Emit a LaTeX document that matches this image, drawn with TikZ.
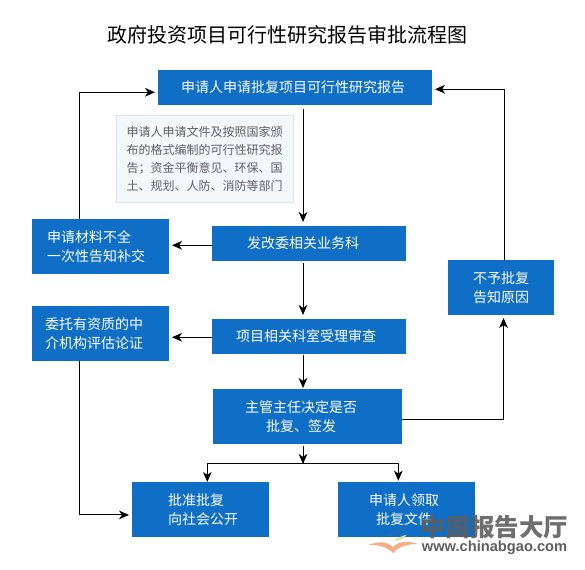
\documentclass[tikz,border=0pt]{standalone}
\usepackage{xcolor}
\usepackage{fontspec}
\setmainfont{Noto Sans CJK SC}
\newfontfamily\markfont{Liberation Sans}
\usepackage{tikz}
\usetikzlibrary{arrows.meta, positioning, calc}
\definecolor{flowBlue}{HTML}{0F6EC6}
\definecolor{noteFill}{HTML}{F3F8FD}
\definecolor{noteLine}{HTML}{D6E6F5}
\definecolor{noteText}{HTML}{5F5F5F}
\definecolor{markGray}{HTML}{5E5E5E}
\definecolor{markBook}{HTML}{F4AE84}
\definecolor{markWing}{HTML}{2F6FA8}
\definecolor{markLeaf}{HTML}{DDE58C}

\begin{document}
\begin{tikzpicture}[
  box/.style={fill=flowBlue, text=white, align=center, inner sep=0pt, outer sep=0pt,
              font=\fontsize{10.5pt}{14.25pt}\selectfont},
  wide/.style={box, minimum width=145.5pt, minimum height=26.25pt},
  side/.style={box, minimum width=102.75pt, minimum height=41.25pt},
  note/.style={draw=noteLine, fill=noteFill, text=noteText, align=left, inner sep=0pt, outer sep=0pt,
               font=\fontsize{9pt}{13.5pt}\selectfont, minimum width=132.75pt,
               minimum height=65.25pt, line width=0.5pt},
  arr/.style={-{Stealth[inset=2.2pt, length=7.5pt, width=6.5pt]}, line width=0.75pt, shorten >=2.25pt}
]
  \useasboundingbox (0,0) rectangle (438.75pt,-427.5pt);

  \node[font=\fontsize{15pt}{18pt}\selectfont] (title) at (215.6pt,-26.25pt) {政府投资项目可行性研究报告审批流程图};

  \node[box, minimum width=205.5pt, minimum height=26.25pt] (apply) at (221.25pt,-65.6pt) {申请人申请批复项目可行性研究报告\hspace*{3pt}};
  \node[note, below=7.5pt of apply, xshift=-67.875pt] (memo) {申请人申请文件及按照国家颁\\布的格式编制的可行性研究报\\告；资金平衡意见、环保、国\\土、规划、人防、消防等部门};
  \node[wide, below=90.75pt of apply, xshift=10.5pt] (dept) {发改委相关业务科\hspace*{9pt}};
  \node[wide, below=43.5pt of dept] (review) {项目相关科室受理审查\hspace*{4.5pt}};
  \node[side, left=32.25pt of dept, yshift=-2.25pt, align=left] (lack) {申请材料不全\\一次性告知补交\hspace*{6.75pt}};
  \node[side, left=32.25pt of review, yshift=2.25pt, align=left] (entrust) {委托有资质的中\hspace*{9.75pt}\\介机构评估论证};
  \node[box, minimum width=141.75pt, minimum height=41.25pt, below=26.25pt of review, xshift=-1.125pt] (decide) {主管主任决定是否\hspace*{9.75pt}\\批复、签发\hspace*{9.75pt}};
  \node[side, below=28.5pt of decide, xshift=-80.25pt, align=left] (approve) {\hspace*{3.75pt}批准批复\\\hspace*{3.75pt}向社会公开};
  \node[side, right=51.75pt of approve] (collect) {申请人领取\hspace*{3.75pt}\\批复文件\hspace*{3.75pt}};
  \node[box, minimum width=79.5pt, minimum height=41.25pt, right=31.5pt of dept, yshift=-33pt] (refuse) {不予批复\\告知原因};

  % free points of the connectors
  \coordinate (fork) at ([xshift=-3.375pt, yshift=-15pt]decide.south);

  \draw[arr] ([xshift=6pt, yshift=-3pt]apply.south) -- ([xshift=-4.5pt, yshift=0.75pt]dept.north);
  \draw[arr] ([xshift=-4.5pt, yshift=-1.5pt]dept.south) -- ([xshift=-4.5pt, yshift=0.75pt]review.north);
  \draw[arr, shorten >=0.75pt] ([xshift=-4.5pt, yshift=-0.75pt]review.south) -- ([xshift=-3.375pt]decide.north);
  \draw[arr] ([yshift=-1.35pt]dept.west) -- ([yshift=-1.35pt]dept.west -| lack.east);
  \draw[arr] ([yshift=-0.6pt]review.west) -- ([yshift=-0.6pt]review.west -| entrust.east);
  \draw[arr] ([xshift=-16.1pt]lack.north) |- ([yshift=-3.6pt]apply.west);
  \draw[arr] ([xshift=2.25pt]refuse.north) |- ([yshift=-1.35pt]apply.east);
  \draw[arr] ([yshift=-2.6pt]decide.east) -| ([xshift=1.9pt]refuse.south);
  \draw[arr] ([xshift=-16.1pt]entrust.south) |- ([yshift=-4.1pt]approve.west);
  \draw[arr, shorten >=0pt] ([xshift=-3.375pt, yshift=-1.5pt]decide.south) -- (fork);
  \draw[arr, shorten >=0pt] (fork) -| ([xshift=5.1pt]approve.north);
  \draw[arr, shorten >=1pt] (fork) -| ([xshift=-6.15pt]collect.north);

  % watermark
  \fill[markWing, opacity=0.55] (287pt,-402.75pt) .. controls (295pt,-402pt) and (303pt,-398pt) .. (307.5pt,-393.75pt)
    .. controls (300pt,-396.5pt) and (294pt,-399pt) .. (287pt,-402.75pt) -- cycle;
  \fill[markLeaf] (295pt,-406pt) .. controls (299pt,-405.5pt) and (303pt,-404pt) .. (305pt,-401pt)
    .. controls (301pt,-402pt) and (298pt,-403.5pt) .. (295pt,-406pt) -- cycle;
  \fill[markBook] (276pt,-408.75pt) .. controls (285pt,-405.5pt) and (291pt,-406.5pt) .. (294.75pt,-410.25pt)
    .. controls (298pt,-406.5pt) and (305pt,-405pt) .. (313.5pt,-408pt)
    .. controls (305pt,-408pt) and (299pt,-410pt) .. (294.75pt,-414.75pt)
    .. controls (290pt,-410pt) and (284pt,-408.5pt) .. (276pt,-408.75pt) -- cycle;
  \node[text=markGray, text opacity=0.9, inner sep=0pt, font=\fontsize{18.4pt}{20pt}\bfseries\selectfont] (markname) at (370.9pt,-395.6pt) {中国报告大厅};
  \node[text=markGray, inner sep=0pt, font=\markfont\fontsize{11pt}{12pt}\bfseries\selectfont] (markurl) at (370.9pt,-410.5pt) {www.chinabgao.com};
\end{tikzpicture}
\end{document}
